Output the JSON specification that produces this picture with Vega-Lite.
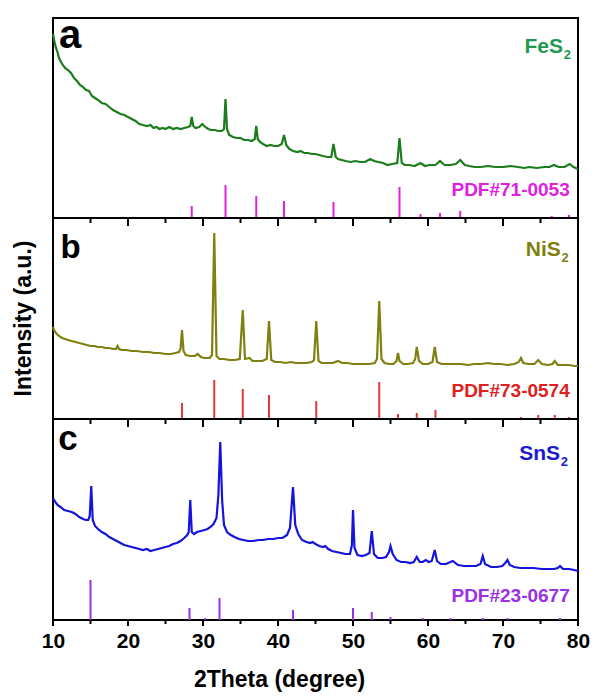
{
  "$schema": "https://vega.github.io/schema/vega-lite/v6.json",
  "padding": {"left": 11, "top": 15, "right": 5, "bottom": 5},
  "background": "white",
  "spacing": 0,
  "bounds": "flush",
  "datasets": {
    "fes2": [
      {"x":10.0,"h":184},{"x":10.2,"h":176},{"x":10.4,"h":170},{"x":10.6,"h":166},{"x":10.8,"h":160},{"x":11.0,"h":157},{"x":11.3,"h":153},{"x":11.6,"h":150},{"x":12.0,"h":148},{"x":12.4,"h":145},{"x":12.8,"h":140},{"x":13.2,"h":137},{"x":13.6,"h":133},{"x":14.0,"h":131},{"x":14.4,"h":128},{"x":14.8,"h":127},{"x":15.2,"h":122},{"x":15.6,"h":120},{"x":16.0,"h":118},{"x":16.5,"h":115},{"x":17.0,"h":114},{"x":17.5,"h":111},{"x":18.0,"h":108},{"x":18.5,"h":106},{"x":19.0,"h":104},{"x":19.5,"h":103},{"x":20.0,"h":101},{"x":20.5,"h":99},{"x":21.0,"h":97},{"x":21.5,"h":94},{"x":22.0,"h":93},{"x":22.5,"h":92},{"x":23.0,"h":93},{"x":23.4,"h":90},{"x":23.8,"h":91},{"x":24.2,"h":89},{"x":24.6,"h":90},{"x":25.0,"h":89},{"x":25.5,"h":91},{"x":26.0,"h":89},{"x":26.5,"h":90},{"x":27.0,"h":89},{"x":27.5,"h":90},{"x":28.0,"h":91},{"x":28.3,"h":92},{"x":28.5,"h":101},{"x":28.7,"h":92},{"x":29.0,"h":90},{"x":29.5,"h":91},{"x":29.9,"h":94},{"x":30.3,"h":91},{"x":30.7,"h":89},{"x":31.1,"h":88},{"x":31.6,"h":88},{"x":32.0,"h":87},{"x":32.5,"h":87},{"x":32.8,"h":89},{"x":33.0,"h":119},{"x":33.2,"h":89},{"x":33.5,"h":83},{"x":34.0,"h":81},{"x":34.5,"h":80},{"x":35.0,"h":80},{"x":35.5,"h":78},{"x":36.0,"h":78},{"x":36.5,"h":77},{"x":36.9,"h":79},{"x":37.1,"h":92},{"x":37.3,"h":79},{"x":37.6,"h":76},{"x":38.0,"h":74},{"x":38.5,"h":72},{"x":39.0,"h":73},{"x":39.5,"h":72},{"x":40.0,"h":72},{"x":40.5,"h":74},{"x":40.8,"h":83},{"x":41.1,"h":73},{"x":41.5,"h":69},{"x":42.0,"h":67},{"x":42.6,"h":66},{"x":43.0,"h":67},{"x":43.5,"h":65},{"x":44.0,"h":65},{"x":44.5,"h":64},{"x":45.0,"h":64},{"x":45.5,"h":63},{"x":46.0,"h":62},{"x":46.6,"h":61},{"x":47.1,"h":61},{"x":47.4,"h":74},{"x":47.7,"h":61},{"x":48.0,"h":59},{"x":48.5,"h":58},{"x":49.0,"h":57},{"x":49.7,"h":56},{"x":50.3,"h":57},{"x":51.0,"h":56},{"x":51.6,"h":56},{"x":52.3,"h":59},{"x":52.8,"h":57},{"x":53.4,"h":56},{"x":54.0,"h":55},{"x":54.6,"h":53},{"x":55.2,"h":54},{"x":55.9,"h":55},{"x":56.2,"h":80},{"x":56.5,"h":55},{"x":56.9,"h":53},{"x":57.5,"h":53},{"x":58.2,"h":52},{"x":59.0,"h":55},{"x":59.6,"h":52},{"x":60.2,"h":53},{"x":61.0,"h":53},{"x":61.6,"h":57},{"x":62.2,"h":53},{"x":63.0,"h":53},{"x":63.7,"h":54},{"x":64.3,"h":58},{"x":64.9,"h":53},{"x":65.5,"h":52},{"x":66.2,"h":51},{"x":67.0,"h":51},{"x":68.0,"h":52},{"x":69.0,"h":51},{"x":70.0,"h":51},{"x":71.0,"h":52},{"x":72.0,"h":51},{"x":72.8,"h":50},{"x":73.5,"h":51},{"x":74.5,"h":50},{"x":75.5,"h":51},{"x":76.2,"h":51},{"x":76.8,"h":53},{"x":77.4,"h":51},{"x":78.2,"h":51},{"x":78.9,"h":54},{"x":79.4,"h":51},{"x":80.0,"h":49}
    ],
    "fes2ref": [
      {"x":28.5,"h":12},{"x":33.0,"h":33},{"x":37.1,"h":22},{"x":40.8,"h":17},{"x":47.4,"h":16},{"x":56.2,"h":31},{"x":59.0,"h":4},{"x":61.6,"h":5},{"x":64.3,"h":7},{"x":76.5,"h":2},{"x":78.8,"h":3}
    ],
    "nis2": [
      {"x":10.0,"h":92},{"x":10.2,"h":88},{"x":10.5,"h":85},{"x":10.8,"h":83},{"x":11.2,"h":81},{"x":11.6,"h":80},{"x":12.0,"h":79},{"x":12.5,"h":78},{"x":13.0,"h":77},{"x":13.5,"h":76},{"x":14.0,"h":75},{"x":14.5,"h":74},{"x":15.0,"h":73},{"x":15.5,"h":73},{"x":16.0,"h":72},{"x":16.5,"h":72},{"x":17.0,"h":71},{"x":17.5,"h":71},{"x":18.0,"h":70},{"x":18.4,"h":70},{"x":18.6,"h":73},{"x":18.8,"h":70},{"x":19.2,"h":69},{"x":19.8,"h":69},{"x":20.5,"h":68},{"x":21.2,"h":68},{"x":22.0,"h":67},{"x":22.8,"h":67},{"x":23.5,"h":66},{"x":24.2,"h":66},{"x":25.0,"h":65},{"x":25.7,"h":65},{"x":26.3,"h":66},{"x":26.8,"h":67},{"x":27.0,"h":70},{"x":27.2,"h":89},{"x":27.4,"h":68},{"x":27.7,"h":64},{"x":28.3,"h":63},{"x":28.9,"h":63},{"x":29.3,"h":65},{"x":29.7,"h":62},{"x":30.2,"h":61},{"x":30.9,"h":61},{"x":31.2,"h":64},{"x":31.5,"h":186},{"x":31.8,"h":63},{"x":32.2,"h":60},{"x":32.8,"h":60},{"x":33.5,"h":59},{"x":34.2,"h":59},{"x":34.9,"h":60},{"x":35.3,"h":109},{"x":35.6,"h":60},{"x":36.2,"h":61},{"x":36.6,"h":58},{"x":37.2,"h":58},{"x":37.9,"h":58},{"x":38.5,"h":60},{"x":38.8,"h":98},{"x":39.1,"h":59},{"x":39.6,"h":57},{"x":40.3,"h":57},{"x":41.0,"h":56},{"x":41.7,"h":57},{"x":42.4,"h":56},{"x":43.1,"h":56},{"x":43.8,"h":56},{"x":44.5,"h":57},{"x":44.8,"h":59},{"x":45.1,"h":98},{"x":45.4,"h":58},{"x":45.8,"h":56},{"x":46.5,"h":56},{"x":47.3,"h":56},{"x":48.0,"h":58},{"x":48.6,"h":56},{"x":49.3,"h":56},{"x":50.0,"h":55},{"x":50.8,"h":55},{"x":51.5,"h":55},{"x":52.2,"h":55},{"x":52.9,"h":56},{"x":53.2,"h":60},{"x":53.5,"h":118},{"x":53.8,"h":60},{"x":54.2,"h":56},{"x":54.8,"h":55},{"x":55.4,"h":55},{"x":55.8,"h":58},{"x":56.0,"h":66},{"x":56.2,"h":58},{"x":56.7,"h":55},{"x":57.3,"h":55},{"x":58.0,"h":56},{"x":58.3,"h":60},{"x":58.5,"h":72},{"x":58.8,"h":58},{"x":59.3,"h":55},{"x":60.0,"h":55},{"x":60.6,"h":57},{"x":60.9,"h":72},{"x":61.2,"h":57},{"x":61.8,"h":55},{"x":62.6,"h":55},{"x":63.5,"h":55},{"x":64.4,"h":55},{"x":65.3,"h":54},{"x":66.2,"h":55},{"x":67.1,"h":55},{"x":68.0,"h":56},{"x":68.8,"h":55},{"x":69.7,"h":55},{"x":70.6,"h":54},{"x":71.5,"h":55},{"x":72.1,"h":57},{"x":72.4,"h":61},{"x":72.7,"h":56},{"x":73.4,"h":55},{"x":74.2,"h":55},{"x":74.7,"h":59},{"x":75.2,"h":55},{"x":76.0,"h":54},{"x":76.6,"h":55},{"x":76.9,"h":58},{"x":77.3,"h":54},{"x":78.0,"h":54},{"x":78.8,"h":54},{"x":79.5,"h":53},{"x":80.0,"h":53}
    ],
    "nis2ref": [
      {"x":27.2,"h":16},{"x":31.5,"h":39},{"x":35.3,"h":30},{"x":38.8,"h":24},{"x":45.1,"h":18},{"x":53.5,"h":37},{"x":56.0,"h":5},{"x":58.5,"h":6},{"x":61.0,"h":9},{"x":72.4,"h":2},{"x":74.7,"h":4},{"x":76.9,"h":4},{"x":78.8,"h":2}
    ],
    "sns2": [
      {"x":10.0,"h":122},{"x":10.3,"h":118},{"x":10.6,"h":115},{"x":11.0,"h":113},{"x":11.5,"h":110},{"x":12.0,"h":109},{"x":12.5,"h":108},{"x":13.0,"h":106},{"x":13.5,"h":103},{"x":14.0,"h":101},{"x":14.4,"h":100},{"x":14.7,"h":100},{"x":14.9,"h":104},{"x":15.1,"h":134},{"x":15.3,"h":100},{"x":15.6,"h":94},{"x":16.0,"h":91},{"x":16.5,"h":88},{"x":17.0,"h":86},{"x":17.5,"h":83},{"x":18.0,"h":81},{"x":18.5,"h":79},{"x":19.0,"h":77},{"x":19.5,"h":75},{"x":20.0,"h":74},{"x":20.5,"h":73},{"x":21.0,"h":72},{"x":21.5,"h":71},{"x":22.0,"h":70},{"x":22.5,"h":71},{"x":23.0,"h":69},{"x":23.5,"h":70},{"x":24.0,"h":71},{"x":24.5,"h":72},{"x":25.0,"h":73},{"x":25.5,"h":74},{"x":26.0,"h":76},{"x":26.5,"h":77},{"x":27.0,"h":79},{"x":27.5,"h":82},{"x":27.9,"h":85},{"x":28.1,"h":88},{"x":28.3,"h":120},{"x":28.5,"h":88},{"x":28.8,"h":86},{"x":29.2,"h":88},{"x":29.7,"h":89},{"x":30.2,"h":90},{"x":30.6,"h":91},{"x":31.0,"h":93},{"x":31.4,"h":96},{"x":31.8,"h":102},{"x":32.05,"h":125},{"x":32.3,"h":178},{"x":32.55,"h":120},{"x":32.8,"h":95},{"x":33.2,"h":88},{"x":33.7,"h":85},{"x":34.2,"h":83},{"x":34.8,"h":81},{"x":35.4,"h":80},{"x":36.0,"h":79},{"x":36.7,"h":79},{"x":37.4,"h":80},{"x":38.0,"h":80},{"x":38.7,"h":81},{"x":39.4,"h":81},{"x":40.0,"h":82},{"x":40.6,"h":82},{"x":41.2,"h":85},{"x":41.6,"h":92},{"x":42.0,"h":133},{"x":42.3,"h":95},{"x":42.7,"h":86},{"x":43.2,"h":80},{"x":43.8,"h":78},{"x":44.3,"h":77},{"x":44.6,"h":78},{"x":45.0,"h":76},{"x":45.5,"h":74},{"x":46.0,"h":73},{"x":46.3,"h":74},{"x":46.7,"h":71},{"x":47.2,"h":69},{"x":47.8,"h":68},{"x":48.4,"h":67},{"x":49.0,"h":66},{"x":49.6,"h":66},{"x":49.85,"h":75},{"x":50.0,"h":110},{"x":50.2,"h":72},{"x":50.6,"h":65},{"x":51.2,"h":64},{"x":51.7,"h":65},{"x":52.2,"h":67},{"x":52.5,"h":89},{"x":52.8,"h":66},{"x":53.3,"h":62},{"x":53.9,"h":62},{"x":54.4,"h":63},{"x":54.8,"h":68},{"x":55.0,"h":74},{"x":55.3,"h":66},{"x":55.8,"h":60},{"x":56.4,"h":58},{"x":57.0,"h":58},{"x":57.6,"h":57},{"x":58.1,"h":58},{"x":58.5,"h":63},{"x":58.9,"h":58},{"x":59.3,"h":58},{"x":59.7,"h":60},{"x":60.1,"h":58},{"x":60.5,"h":59},{"x":60.9,"h":70},{"x":61.2,"h":59},{"x":61.7,"h":56},{"x":62.4,"h":56},{"x":63.3,"h":59},{"x":64.0,"h":55},{"x":64.8,"h":54},{"x":65.6,"h":54},{"x":66.4,"h":54},{"x":67.0,"h":56},{"x":67.3,"h":64},{"x":67.6,"h":56},{"x":68.4,"h":53},{"x":69.2,"h":53},{"x":69.9,"h":54},{"x":70.3,"h":57},{"x":70.6,"h":60},{"x":70.9,"h":55},{"x":71.5,"h":53},{"x":72.3,"h":52},{"x":73.2,"h":52},{"x":74.1,"h":52},{"x":75.1,"h":51},{"x":76.0,"h":51},{"x":76.8,"h":51},{"x":77.3,"h":52},{"x":77.6,"h":54},{"x":78.0,"h":51},{"x":78.8,"h":51},{"x":79.5,"h":50},{"x":80.0,"h":49}
    ],
    "sns2ref": [
      {"x":15.0,"h":40},{"x":28.2,"h":12},{"x":30.3,"h":2},{"x":32.2,"h":22},{"x":42.0,"h":10},{"x":50.0,"h":12},{"x":52.5,"h":8},{"x":55.0,"h":3},{"x":59.3,"h":2},{"x":63.0,"h":2},{"x":67.3,"h":2},{"x":70.6,"h":2},{"x":77.6,"h":2}
    ],
    "major": [{"x":10},{"x":20},{"x":30},{"x":40},{"x":50},{"x":60},{"x":70},{"x":80}],
    "minor": [{"x":15},{"x":25},{"x":35},{"x":45},{"x":55},{"x":65},{"x":75}],
    "one": [{}]
  },
  "vconcat": [
    {
      "width": 525, "height": 200,
      "layer": [
        {"data": {"name": "fes2"}, "mark": {"type": "line", "color": "#1b7d1b", "strokeWidth": 2.2},
         "encoding": {
           "x": {"field": "x", "type": "quantitative", "scale": {"domain": [10, 80], "nice": false, "zero": false}, "axis": null},
           "y": {"field": "h", "type": "quantitative", "scale": {"domain": [0, 200], "nice": false, "zero": false}, "axis": null}
         }},
        {"data": {"name": "fes2ref"}, "mark": {"type": "rule", "color": "#e020e0", "strokeWidth": 2},
         "encoding": {
           "x": {"field": "x", "type": "quantitative", "axis": null},
           "y": {"field": "h", "type": "quantitative", "axis": null},
           "y2": {"datum": 0}
         }},
        {"data": {"name": "one"}, "mark": {"type": "text", "text": "a", "font": "Liberation Sans", "fontWeight": "bold", "fontSize": 40, "align": "left", "baseline": "alphabetic", "color": "black"},
         "encoding": {"x": {"datum": 10.8, "type": "quantitative", "axis": null}, "y": {"datum": 170, "type": "quantitative", "axis": null}}},
        {"data": {"name": "one"}, "mark": {"type": "text", "text": "FeS", "font": "Liberation Sans", "fontWeight": "bold", "fontSize": 21, "align": "right", "baseline": "alphabetic", "color": "#1e9a50"},
         "encoding": {"x": {"datum": 78.0, "type": "quantitative", "axis": null}, "y": {"datum": 165, "type": "quantitative", "axis": null}}},
        {"data": {"name": "one"}, "mark": {"type": "text", "text": "2", "font": "Liberation Sans", "fontWeight": "bold", "fontSize": 13, "align": "left", "baseline": "alphabetic", "dy": 6, "color": "#1e9a50"},
         "encoding": {"x": {"datum": 78.1, "type": "quantitative", "axis": null}, "y": {"datum": 165, "type": "quantitative", "axis": null}}},
        {"data": {"name": "one"}, "mark": {"type": "text", "text": "PDF#71-0053", "font": "Liberation Sans", "fontWeight": "bold", "fontSize": 19, "align": "right", "baseline": "alphabetic", "color": "#e020e0"},
         "encoding": {"x": {"datum": 78.9, "type": "quantitative", "axis": null}, "y": {"datum": 22, "type": "quantitative", "axis": null}}}
      ]
    },
    {
      "width": 525, "height": 201,
      "layer": [
        {"data": {"name": "nis2"}, "mark": {"type": "line", "color": "#808010", "strokeWidth": 2.2},
         "encoding": {
           "x": {"field": "x", "type": "quantitative", "scale": {"domain": [10, 80], "nice": false, "zero": false}, "axis": null},
           "y": {"field": "h", "type": "quantitative", "scale": {"domain": [0, 201], "nice": false, "zero": false}, "axis": null}
         }},
        {"data": {"name": "nis2ref"}, "mark": {"type": "rule", "color": "#e03a3a", "strokeWidth": 2},
         "encoding": {
           "x": {"field": "x", "type": "quantitative", "axis": null},
           "y": {"field": "h", "type": "quantitative", "axis": null},
           "y2": {"datum": 0}
         }},
        {"data": {"name": "major"}, "mark": {"type": "rule", "color": "black", "strokeWidth": 2},
         "encoding": {
           "x": {"field": "x", "type": "quantitative", "axis": null},
           "y": {"datum": 201, "type": "quantitative", "axis": null},
           "y2": {"datum": 193}
         }},
        {"data": {"name": "minor"}, "mark": {"type": "rule", "color": "black", "strokeWidth": 2},
         "encoding": {
           "x": {"field": "x", "type": "quantitative", "axis": null},
           "y": {"datum": 201, "type": "quantitative", "axis": null},
           "y2": {"datum": 196}
         }},
        {"data": {"name": "one"}, "mark": {"type": "text", "text": "Intensity (a.u.)", "angle": 270, "font": "Liberation Sans", "fontWeight": "bold", "fontSize": 23, "align": "center", "baseline": "middle", "color": "black"},
         "encoding": {"x": {"datum": 6.1, "type": "quantitative", "axis": null}, "y": {"datum": 100.5, "type": "quantitative", "axis": null}}},
        {"data": {"name": "one"}, "mark": {"type": "text", "text": "b", "font": "Liberation Sans", "fontWeight": "bold", "fontSize": 33, "align": "left", "baseline": "alphabetic", "color": "black"},
         "encoding": {"x": {"datum": 11.0, "type": "quantitative", "axis": null}, "y": {"datum": 161, "type": "quantitative", "axis": null}}},
        {"data": {"name": "one"}, "mark": {"type": "text", "text": "NiS", "font": "Liberation Sans", "fontWeight": "bold", "fontSize": 21, "align": "right", "baseline": "alphabetic", "color": "#808010"},
         "encoding": {"x": {"datum": 77.7, "type": "quantitative", "axis": null}, "y": {"datum": 163, "type": "quantitative", "axis": null}}},
        {"data": {"name": "one"}, "mark": {"type": "text", "text": "2", "font": "Liberation Sans", "fontWeight": "bold", "fontSize": 13, "align": "left", "baseline": "alphabetic", "dy": 6, "color": "#808010"},
         "encoding": {"x": {"datum": 77.8, "type": "quantitative", "axis": null}, "y": {"datum": 163, "type": "quantitative", "axis": null}}},
        {"data": {"name": "one"}, "mark": {"type": "text", "text": "PDF#73-0574", "font": "Liberation Sans", "fontWeight": "bold", "fontSize": 19, "align": "right", "baseline": "alphabetic", "color": "#e02020"},
         "encoding": {"x": {"datum": 78.9, "type": "quantitative", "axis": null}, "y": {"datum": 22, "type": "quantitative", "axis": null}}}
      ]
    },
    {
      "width": 525, "height": 201,
      "layer": [
        {"data": {"name": "sns2"}, "mark": {"type": "line", "color": "#1414dc", "strokeWidth": 2.2},
         "encoding": {
           "x": {"field": "x", "type": "quantitative", "scale": {"domain": [10, 80], "nice": false, "zero": false},
                 "axis": {"values": [10,20,30,40,50,60,70,80], "title": "2Theta (degree)", "ticks": true, "tickSize": 6, "tickOpacity": 0, "labelPadding": 4, "labelFlush": false, "titlePadding": 17, "titleX": 226, "titleAlign": "center", "orient": "bottom"}},
           "y": {"field": "h", "type": "quantitative", "scale": {"domain": [0, 201], "nice": false, "zero": false}, "axis": null}
         }},
        {"data": {"name": "sns2ref"}, "mark": {"type": "rule", "color": "#9a30e8", "strokeWidth": 2},
         "encoding": {
           "x": {"field": "x", "type": "quantitative"},
           "y": {"field": "h", "type": "quantitative", "axis": null},
           "y2": {"datum": 0}
         }},
        {"data": {"name": "major"}, "mark": {"type": "rule", "color": "black", "strokeWidth": 2},
         "encoding": {
           "x": {"field": "x", "type": "quantitative"},
           "y": {"datum": 201, "type": "quantitative", "axis": null},
           "y2": {"datum": 193}
         }},
        {"data": {"name": "minor"}, "mark": {"type": "rule", "color": "black", "strokeWidth": 2},
         "encoding": {
           "x": {"field": "x", "type": "quantitative"},
           "y": {"datum": 201, "type": "quantitative", "axis": null},
           "y2": {"datum": 196}
         }},
        {"data": {"name": "major"}, "mark": {"type": "rule", "color": "black", "strokeWidth": 2},
         "encoding": {
           "x": {"field": "x", "type": "quantitative"},
           "y": {"datum": 0, "type": "quantitative", "axis": null},
           "y2": {"datum": -6}
         }},
        {"data": {"name": "minor"}, "mark": {"type": "rule", "color": "black", "strokeWidth": 2},
         "encoding": {
           "x": {"field": "x", "type": "quantitative"},
           "y": {"datum": 0, "type": "quantitative", "axis": null},
           "y2": {"datum": -4}
         }},
        {"data": {"name": "one"}, "mark": {"type": "text", "text": "c", "font": "Liberation Sans", "fontWeight": "bold", "fontSize": 35, "align": "left", "baseline": "alphabetic", "color": "black"},
         "encoding": {"x": {"datum": 10.7, "type": "quantitative"}, "y": {"datum": 170, "type": "quantitative", "axis": null}}},
        {"data": {"name": "one"}, "mark": {"type": "text", "text": "SnS", "font": "Liberation Sans", "fontWeight": "bold", "fontSize": 21, "align": "right", "baseline": "alphabetic", "color": "#1a1ad0"},
         "encoding": {"x": {"datum": 77.6, "type": "quantitative"}, "y": {"datum": 160, "type": "quantitative", "axis": null}}},
        {"data": {"name": "one"}, "mark": {"type": "text", "text": "2", "font": "Liberation Sans", "fontWeight": "bold", "fontSize": 13, "align": "left", "baseline": "alphabetic", "dy": 6, "color": "#1a1ad0"},
         "encoding": {"x": {"datum": 77.7, "type": "quantitative"}, "y": {"datum": 160, "type": "quantitative", "axis": null}}},
        {"data": {"name": "one"}, "mark": {"type": "text", "text": "PDF#23-0677", "font": "Liberation Sans", "fontWeight": "bold", "fontSize": 19, "align": "right", "baseline": "alphabetic", "color": "#9a30e8"},
         "encoding": {"x": {"datum": 78.9, "type": "quantitative"}, "y": {"datum": 18, "type": "quantitative", "axis": null}}}
      ]
    }
  ],
  "config": {
    "font": "Liberation Sans",
    "view": {"stroke": "black", "strokeWidth": 2},
    "axis": {
      "labelFont": "Liberation Sans", "labelFontWeight": "bold", "labelFontSize": 21, "labelColor": "black",
      "titleFont": "Liberation Sans", "titleFontWeight": "bold", "titleFontSize": 23, "titleColor": "black",
      "grid": false, "domain": false
    }
  }
}
